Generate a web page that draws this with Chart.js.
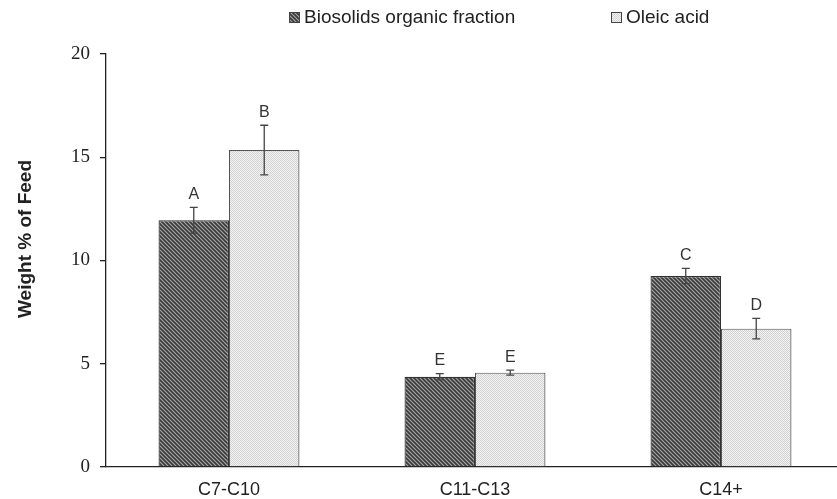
<!DOCTYPE html>
<html>
<head>
<meta charset="utf-8">
<script src="https://cdn.jsdelivr.net/npm/chart.js@4/dist/chart.umd.min.js"></script>
<style>
  html, body { margin: 0; padding: 0; background: #fff; overflow: hidden; }
  #wrap { width: 845px; height: 499px; }
</style>
</head>
<body>
<div id="wrap"><canvas id="chart" width="845" height="499"></canvas></div>
<script>
// data
const categories = ["C7-C10", "C11-C13", "C14+"];
const seriesNames = ["Biosolids organic fraction", "Oleic acid"];
const bioValues = [11.95, 4.37, 9.25];
const bioErrors = [0.62, 0.15, 0.37];
const bioLetters = ["A", "E", "C"];
const oleicValues = [15.35, 4.57, 6.7];
const oleicErrors = [1.2, 0.12, 0.5];
const oleicLetters = ["B", "E", "D"];
const yTicks = [0, 5, 10, 15, 20];
const yTitle = "Weight % of Feed";

// fill patterns
function hatchPattern() {
  const c = document.createElement("canvas");
  c.width = 4; c.height = 4;
  const g = c.getContext("2d");
  g.fillStyle = "#a4a4a4";
  g.fillRect(0, 0, 4, 4);
  g.strokeStyle = "#3a3a3a";
  g.lineWidth = 1.6;
  g.beginPath();
  g.moveTo(-1, -1); g.lineTo(5, 5);
  g.moveTo(-1, 3); g.lineTo(1, 5);
  g.moveTo(3, -1); g.lineTo(5, 1);
  g.stroke();
  return g.createPattern(c, "repeat");
}

function dotPattern() {
  const c = document.createElement("canvas");
  c.width = 2; c.height = 2;
  const g = c.getContext("2d");
  g.fillStyle = "#f3f3f3";
  g.fillRect(0, 0, 2, 2);
  g.fillStyle = "#d2d2d2";
  g.fillRect(0, 0, 1, 1);
  g.fillRect(1, 1, 1, 1);
  return g.createPattern(c, "repeat");
}

const fills = [hatchPattern(), dotPattern()];
const errors = [bioErrors, oleicErrors];
const letters = [bioLetters, oleicLetters];

// error bars + significance letters
const errorBarPlugin = {
  id: "errorBars",
  afterDatasetsDraw(chart) {
    const ctx = chart.ctx;
    const y = chart.scales.y;
    ctx.save();
    chart.data.datasets.forEach((ds, di) => {
      const meta = chart.getDatasetMeta(di);
      meta.data.forEach((bar, i) => {
        const v = ds.data[i];
        const e = errors[di][i];
        const top = y.getPixelForValue(v + e);
        const bot = y.getPixelForValue(v - e);
        ctx.strokeStyle = "#444";
        ctx.lineWidth = 1.3;
        ctx.beginPath();
        ctx.moveTo(bar.x, top); ctx.lineTo(bar.x, bot);
        ctx.moveTo(bar.x - 4, top); ctx.lineTo(bar.x + 4, top);
        ctx.moveTo(bar.x - 4, bot); ctx.lineTo(bar.x + 4, bot);
        ctx.stroke();
        ctx.fillStyle = "#333";
        ctx.font = "16px 'Liberation Sans', Arial, sans-serif";
        ctx.textAlign = "center";
        ctx.textBaseline = "bottom";
        ctx.fillText(letters[di][i], bar.x, top - 5);
      });
    });
    ctx.restore();
  }
};

// legend at the top, two entries spread apart; y title a bit above centre
const extrasPlugin = {
  id: "extras",
  afterDraw(chart) {
    const ctx = chart.ctx;
    const xs = [289, 611];
    ctx.save();
    ctx.font = "19px 'Liberation Sans', Arial, sans-serif";
    ctx.textBaseline = "middle";
    ctx.textAlign = "left";
    seriesNames.forEach((name, i) => {
      ctx.fillStyle = fills[i];
      ctx.fillRect(xs[i], 12, 11, 11);
      ctx.strokeStyle = "#444";
      ctx.lineWidth = 1;
      ctx.strokeRect(xs[i] + 0.5, 12.5, 10, 10);
      ctx.fillStyle = "#222";
      ctx.fillText(name, xs[i] + 15, 18);
    });

    ctx.translate(26, 239);
    ctx.rotate(-Math.PI / 2);
    ctx.font = "bold 19px 'Liberation Sans', Arial, sans-serif";
    ctx.textAlign = "center";
    ctx.fillStyle = "#222";
    ctx.fillText(yTitle, 0, 0);
    ctx.restore();
  }
};

new Chart(document.getElementById("chart").getContext("2d"), {
  type: "bar",
  data: {
    labels: categories,
    datasets: [
      {
        label: seriesNames[0],
        data: bioValues,
        backgroundColor: fills[0],
        borderColor: "#333",
        borderWidth: 1.2,
        borderSkipped: "bottom",
      },
      {
        label: seriesNames[1],
        data: oleicValues,
        backgroundColor: fills[1],
        borderColor: "#555",
        borderWidth: 1.2,
        borderSkipped: "bottom",
      },
    ],
  },
  options: {
    responsive: false,
    animation: false,
    layout: { padding: { top: 54, right: 1, left: 0, bottom: 0 } },
    datasets: { bar: { categoryPercentage: 0.573, barPercentage: 1.0 } },
    plugins: {
      legend: { display: false },
      tooltip: { enabled: false },
    },
    scales: {
      x: {
        grid: { display: false },
        border: { display: true, color: "#222", width: 1.3 },
        ticks: {
          color: "#222",
          font: { family: "'Liberation Sans', Arial, sans-serif", size: 18 },
          padding: 4,
        },
        afterFit(scale) { scale.height = 32; },
      },
      y: {
        min: 0,
        max: 20,
        afterBuildTicks(scale) { scale.ticks = yTicks.map((v) => ({ value: v })); },
        grid: {
          display: true,
          drawOnChartArea: false,
          drawTicks: true,
          tickLength: 6,
          color: "#222",
          lineWidth: 1.3,
        },
        border: { display: true, color: "#222", width: 1.3 },
        ticks: {
          color: "#222",
          font: { family: "'Liberation Serif', 'Times New Roman', serif", size: 19 },
          padding: 10,
        },
        afterFit(scale) { scale.width = 106; },
      },
    },
  },
  plugins: [errorBarPlugin, extrasPlugin],
});
</script>
</body>
</html>
